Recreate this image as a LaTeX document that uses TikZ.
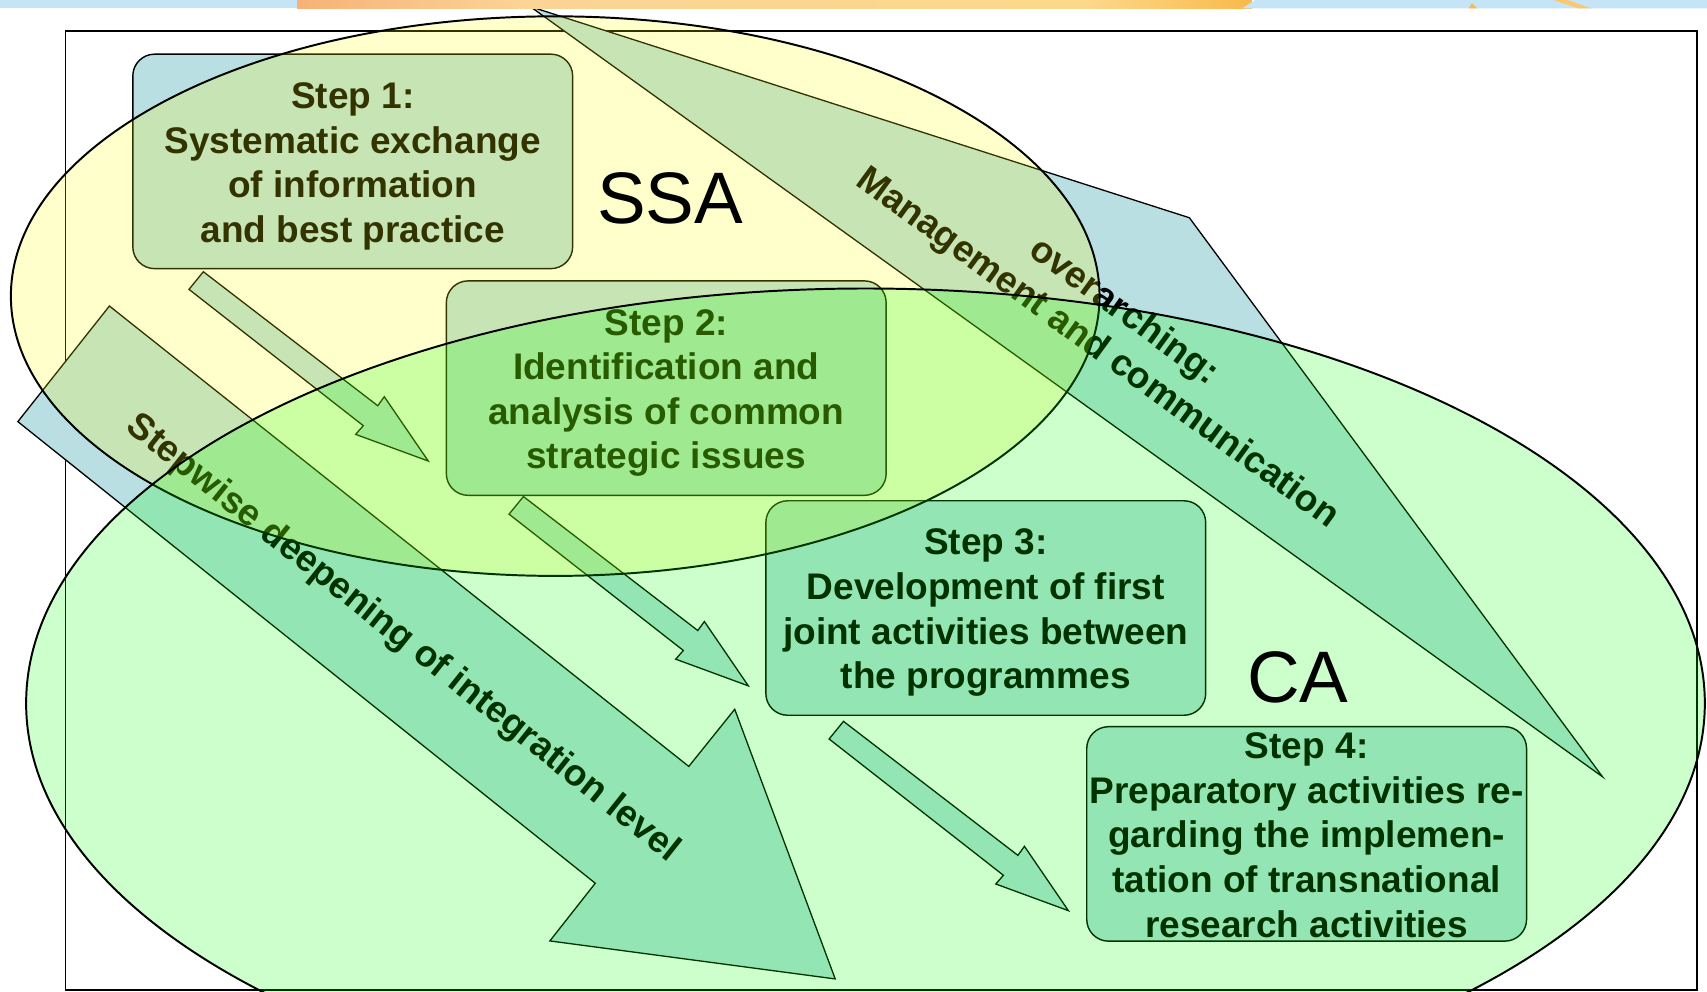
\documentclass[tikz,border=0pt]{standalone}
\usepackage{fontspec}
\setmainfont{Liberation Sans}
\definecolor{boxblue}{RGB}{185,223,226}
\definecolor{stripblue}{RGB}{197,229,247}
\definecolor{peach}{RGB}{246,178,120}
\definecolor{lightor}{RGB}{251,212,150}
\definecolor{yellowor}{RGB}{252,216,138}
\definecolor{orangetwo}{RGB}{250,185,75}
\definecolor{ylw}{RGB}{255,255,0}
\definecolor{grn}{RGB}{0,255,0}
\tikzset{
  stepbox/.style={draw=black, line width=1.3, fill=boxblue, rounded corners=20,
    minimum width=404, minimum height=197, inner sep=0},
  steptext/.style={inner sep=0, align=center,
    font=\bfseries\fontsize{34}{41}\selectfont},
  blueshape/.style={draw=black, line width=1.2, fill=boxblue, line join=miter},
  lbl/.style={inner sep=0, align=center, font=\bfseries\fontsize{34}{41}\selectfont},
  bigl/.style={inner sep=0, font=\fontsize{67}{80}\selectfont},
  framebox/.style={draw=black, line width=1.5},
  setell/.style={draw=black, line width=1.8, fill opacity=0.2, draw opacity=1}
}
\begin{document}
\begin{tikzpicture}[x=1pt,y=-1pt]
\useasboundingbox (0,0) rectangle (1568,911);
\clip (0,0) rectangle (1568,911);
\fill[white] (0,0) rectangle (1568,911);
% frame
\draw[framebox] (60,28.5) rectangle (1559,909.5);
% overarching arrow
\filldraw[blueshape] (487,6) -- (1092.5,200) -- (1472,713.5) -- cycle;
% stepwise arrow
\filldraw[blueshape] (100.5,281.1) -- (632.7,704) -- (674.9,651.5) -- (767.2,899.2)
  -- (505.1,864.3) -- (546.8,811.3) -- (16.4,387.3) -- cycle;
% small arrows between steps
\foreach \k in {0,1,2}
  \filldraw[blueshape, shift={(\k*294,\k*206.5)}] (186.8,249.6) -- (347,372.7) -- (353,364.4)
    -- (393.4,423.5) -- (326.7,399) -- (333.7,391) -- (173.6,265.8) -- cycle;
% step boxes
\node[stepbox] (s1) at (324,148.25) {};
\node[stepbox] (s2) at (612,356.5) {};
\node[stepbox] (s3) at (905.5,558.5) {};
\node[stepbox] (s4) at (1200.25,766) {};
\node[steptext, yshift=-4.5pt] (t1) at (s1) {Step 1:\\Systematic exchange\\of information\\and best practice};
\node[steptext, yshift=-4.5pt] (t2) at (s2) {Step 2:\\Identification and\\analysis of common\\strategic issues};
\node[steptext, yshift=-4.5pt] (t3) at (s3) {Step 3:\\Development of first\\joint activities between\\the programmes};
\node[steptext, yshift=-1pt] (t4) at (s4) {Step 4:\\Preparatory activities re-\\garding the implemen-\\tation of transnational\\research activities};
% labels
\node[lbl, rotate=-38.5] (deep) at (369.9,586.7) {Stepwise deepening of integration level};
\node[lbl, rotate=-36] (mgmt) at (1019.75,303.7) {overarching:\\Management and communication};
% sets
\filldraw[setell, fill=ylw] (510,272) ellipse [x radius=500, y radius=257];
\filldraw[setell, fill=grn] (795,646) ellipse [x radius=771, y radius=381];
% set names
\node[bigl, anchor=base] (ssa) at (615.5,205) {SSA};
\node[bigl, anchor=base] (ca) at (1192,645) {CA};
% top strip
\fill[stripblue] (0,0) rectangle (275,7.7);
\shade[left color=peach, right color=lightor] (273,0) rectangle (480,7.7);
\shade[left color=lightor, right color=yellowor] (479,0) rectangle (1000,7.7);
\shade[left color=yellowor, right color=orangetwo] (999,0) rectangle (1150,7.7);
\fill[stripblue] (1141,7.7) -- (1153,0) -- (1568,0) -- (1568,7.7) -- cycle;
\fill[orangetwo] (1349,7.7) -- (1352,3) -- (1357,7.7) -- cycle;
\fill[orangetwo!80] (1427,0) -- (1440,0) -- (1462,7.7) -- (1450,7.7) -- cycle;
\end{tikzpicture}
\end{document}
